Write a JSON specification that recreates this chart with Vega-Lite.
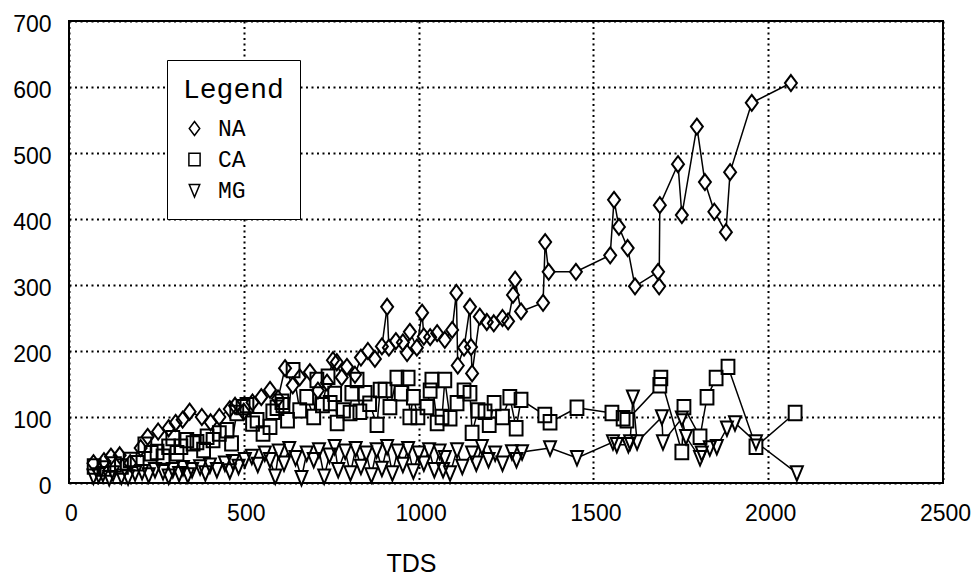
{
  "$schema": "https://vega.github.io/schema/vega-lite/v6.json",
  "width": 874,
  "height": 462,
  "autosize": {"type": "none"},
  "padding": {"left": 69, "top": 21, "right": 30, "bottom": 94},
  "background": "white",
  "config": {
    "view": {"stroke": "black", "strokeWidth": 2},
    "axis": {
      "domain": false,
      "ticks": false,
      "grid": true,
      "gridColor": "black",
      "gridDash": [2, 3.5],
      "gridWidth": 2,
      "gridOpacity": 1,
      "labelFont": "Liberation Sans",
      "labelFontSize": 23,
      "labelColor": "black",
      "labelFlush": false,
      "format": "d"
    }
  },
  "datasets": {
    "pts": [
      {"s":"NA","x":70,"y":30},{"s":"NA","x":100,"y":33},{"s":"NA","x":120,"y":40},{"s":"NA","x":145,"y":42},{"s":"NA","x":175,"y":30},
      {"s":"NA","x":205,"y":53},{"s":"NA","x":225,"y":70},{"s":"NA","x":255,"y":78},{"s":"NA","x":285,"y":83},{"s":"NA","x":305,"y":91},
      {"s":"NA","x":325,"y":96},{"s":"NA","x":345,"y":108},{"s":"NA","x":380,"y":100},{"s":"NA","x":405,"y":92},{"s":"NA","x":430,"y":100},
      {"s":"NA","x":460,"y":112},{"s":"NA","x":475,"y":117},{"s":"NA","x":500,"y":108},{"s":"NA","x":525,"y":122},{"s":"NA","x":550,"y":130},
      {"s":"NA","x":575,"y":141},{"s":"NA","x":598,"y":128},{"s":"NA","x":618,"y":174},{"s":"NA","x":640,"y":148},{"s":"NA","x":660,"y":160},
      {"s":"NA","x":689,"y":168},{"s":"NA","x":712,"y":140},{"s":"NA","x":738,"y":152},{"s":"NA","x":755,"y":186},{"s":"NA","x":766,"y":183},
      {"s":"NA","x":780,"y":160},{"s":"NA","x":795,"y":176},{"s":"NA","x":818,"y":164},{"s":"NA","x":835,"y":190},{"s":"NA","x":855,"y":200},
      {"s":"NA","x":875,"y":188},{"s":"NA","x":895,"y":207},{"s":"NA","x":910,"y":267},{"s":"NA","x":915,"y":205},{"s":"NA","x":935,"y":215},
      {"s":"NA","x":955,"y":213},{"s":"NA","x":967,"y":197},{"s":"NA","x":975,"y":229},{"s":"NA","x":995,"y":205},{"s":"NA","x":1010,"y":258},
      {"s":"NA","x":1015,"y":222},{"s":"NA","x":1033,"y":221},{"s":"NA","x":1053,"y":227},{"s":"NA","x":1075,"y":217},{"s":"NA","x":1096,"y":232},
      {"s":"NA","x":1108,"y":288},{"s":"NA","x":1112,"y":178},{"s":"NA","x":1130,"y":205},{"s":"NA","x":1147,"y":267},{"s":"NA","x":1150,"y":206},
      {"s":"NA","x":1153,"y":166},{"s":"NA","x":1175,"y":252},{"s":"NA","x":1195,"y":244},{"s":"NA","x":1215,"y":242},{"s":"NA","x":1240,"y":250},
      {"s":"NA","x":1256,"y":245},{"s":"NA","x":1270,"y":285},{"s":"NA","x":1276,"y":308},{"s":"NA","x":1293,"y":260},{"s":"NA","x":1356,"y":273},
      {"s":"NA","x":1362,"y":365},{"s":"NA","x":1372,"y":320},{"s":"NA","x":1450,"y":320},{"s":"NA","x":1548,"y":345},{"s":"NA","x":1559,"y":429},
      {"s":"NA","x":1573,"y":388},{"s":"NA","x":1598,"y":356},{"s":"NA","x":1619,"y":298},{"s":"NA","x":1685,"y":320},{"s":"NA","x":1688,"y":298},
      {"s":"NA","x":1690,"y":421},{"s":"NA","x":1742,"y":483},{"s":"NA","x":1753,"y":406},{"s":"NA","x":1796,"y":540},{"s":"NA","x":1819,"y":456},
      {"s":"NA","x":1846,"y":411},{"s":"NA","x":1879,"y":380},{"s":"NA","x":1891,"y":471},{"s":"NA","x":1953,"y":576},{"s":"NA","x":2065,"y":606},

      {"s":"CA","x":72,"y":25},{"s":"CA","x":100,"y":22},{"s":"CA","x":130,"y":28},{"s":"CA","x":150,"y":25},{"s":"CA","x":175,"y":35},
      {"s":"CA","x":195,"y":30},{"s":"CA","x":217,"y":58},{"s":"CA","x":235,"y":45},{"s":"CA","x":252,"y":47},{"s":"CA","x":269,"y":40},
      {"s":"CA","x":285,"y":55},{"s":"CA","x":297,"y":68},{"s":"CA","x":309,"y":45},{"s":"CA","x":320,"y":55},{"s":"CA","x":337,"y":65},
      {"s":"CA","x":355,"y":60},{"s":"CA","x":366,"y":62},{"s":"CA","x":385,"y":50},{"s":"CA","x":395,"y":70},{"s":"CA","x":412,"y":65},
      {"s":"CA","x":430,"y":75},{"s":"CA","x":452,"y":80},{"s":"CA","x":465,"y":60},{"s":"CA","x":480,"y":106},{"s":"CA","x":498,"y":115},
      {"s":"CA","x":509,"y":118},{"s":"CA","x":525,"y":90},{"s":"CA","x":538,"y":95},{"s":"CA","x":555,"y":75},{"s":"CA","x":575,"y":85},
      {"s":"CA","x":583,"y":108},{"s":"CA","x":595,"y":114},{"s":"CA","x":609,"y":123},{"s":"CA","x":612,"y":118},{"s":"CA","x":625,"y":95},
      {"s":"CA","x":641,"y":171},{"s":"CA","x":660,"y":110},{"s":"CA","x":680,"y":130},{"s":"CA","x":700,"y":100},{"s":"CA","x":709,"y":156},
      {"s":"CA","x":725,"y":118},{"s":"CA","x":741,"y":161},{"s":"CA","x":747,"y":121},{"s":"CA","x":760,"y":135},{"s":"CA","x":767,"y":91},
      {"s":"CA","x":785,"y":110},{"s":"CA","x":804,"y":106},{"s":"CA","x":809,"y":136},{"s":"CA","x":824,"y":156},{"s":"CA","x":832,"y":108},
      {"s":"CA","x":847,"y":136},{"s":"CA","x":860,"y":120},{"s":"CA","x":881,"y":88},{"s":"CA","x":890,"y":141},{"s":"CA","x":904,"y":141},
      {"s":"CA","x":918,"y":115},{"s":"CA","x":938,"y":159},{"s":"CA","x":950,"y":136},{"s":"CA","x":970,"y":159},{"s":"CA","x":975,"y":100},
      {"s":"CA","x":985,"y":130},{"s":"CA","x":998,"y":100},{"s":"CA","x":1024,"y":115},{"s":"CA","x":1033,"y":140},{"s":"CA","x":1038,"y":156},
      {"s":"CA","x":1053,"y":91},{"s":"CA","x":1067,"y":100},{"s":"CA","x":1075,"y":156},{"s":"CA","x":1090,"y":98},{"s":"CA","x":1110,"y":121},
      {"s":"CA","x":1130,"y":140},{"s":"CA","x":1147,"y":136},{"s":"CA","x":1153,"y":76},{"s":"CA","x":1170,"y":110},{"s":"CA","x":1190,"y":108},
      {"s":"CA","x":1202,"y":88},{"s":"CA","x":1216,"y":121},{"s":"CA","x":1240,"y":100},{"s":"CA","x":1261,"y":130},{"s":"CA","x":1279,"y":83},
      {"s":"CA","x":1293,"y":126},{"s":"CA","x":1361,"y":103},{"s":"CA","x":1376,"y":92},{"s":"CA","x":1453,"y":114},{"s":"CA","x":1553,"y":106},
      {"s":"CA","x":1585,"y":98},{"s":"CA","x":1596,"y":95},{"s":"CA","x":1690,"y":148},{"s":"CA","x":1693,"y":159},{"s":"CA","x":1753,"y":47},
      {"s":"CA","x":1759,"y":115},{"s":"CA","x":1805,"y":70},{"s":"CA","x":1825,"y":130},{"s":"CA","x":1851,"y":159},{"s":"CA","x":1885,"y":176},
      {"s":"CA","x":1965,"y":55},{"s":"CA","x":2077,"y":106},

      {"s":"MG","x":70,"y":10},{"s":"MG","x":85,"y":12},{"s":"MG","x":97,"y":14},{"s":"MG","x":115,"y":8},{"s":"MG","x":126,"y":15},
      {"s":"MG","x":150,"y":10},{"s":"MG","x":169,"y":9},{"s":"MG","x":189,"y":15},{"s":"MG","x":209,"y":17},{"s":"MG","x":228,"y":12},
      {"s":"MG","x":246,"y":20},{"s":"MG","x":269,"y":17},{"s":"MG","x":285,"y":10},{"s":"MG","x":297,"y":20},{"s":"MG","x":315,"y":14},
      {"s":"MG","x":326,"y":23},{"s":"MG","x":340,"y":12},{"s":"MG","x":352,"y":20},{"s":"MG","x":375,"y":24},{"s":"MG","x":390,"y":15},
      {"s":"MG","x":403,"y":27},{"s":"MG","x":423,"y":20},{"s":"MG","x":446,"y":30},{"s":"MG","x":460,"y":18},{"s":"MG","x":469,"y":32},
      {"s":"MG","x":485,"y":25},{"s":"MG","x":503,"y":35},{"s":"MG","x":523,"y":40},{"s":"MG","x":540,"y":28},{"s":"MG","x":560,"y":45},
      {"s":"MG","x":575,"y":35},{"s":"MG","x":590,"y":10},{"s":"MG","x":600,"y":48},{"s":"MG","x":615,"y":30},{"s":"MG","x":630,"y":52},
      {"s":"MG","x":648,"y":38},{"s":"MG","x":665,"y":8},{"s":"MG","x":680,"y":45},{"s":"MG","x":700,"y":35},{"s":"MG","x":715,"y":50},
      {"s":"MG","x":730,"y":10},{"s":"MG","x":745,"y":42},{"s":"MG","x":760,"y":55},{"s":"MG","x":770,"y":20},{"s":"MG","x":790,"y":48},
      {"s":"MG","x":805,"y":15},{"s":"MG","x":820,"y":52},{"s":"MG","x":835,"y":25},{"s":"MG","x":850,"y":45},{"s":"MG","x":865,"y":12},
      {"s":"MG","x":880,"y":50},{"s":"MG","x":895,"y":22},{"s":"MG","x":910,"y":55},{"s":"MG","x":925,"y":15},{"s":"MG","x":940,"y":48},
      {"s":"MG","x":955,"y":28},{"s":"MG","x":970,"y":52},{"s":"MG","x":985,"y":18},{"s":"MG","x":1000,"y":45},{"s":"MG","x":1015,"y":30},
      {"s":"MG","x":1030,"y":50},{"s":"MG","x":1045,"y":20},{"s":"MG","x":1060,"y":48},{"s":"MG","x":1070,"y":20},{"s":"MG","x":1075,"y":38},
      {"s":"MG","x":1090,"y":15},{"s":"MG","x":1110,"y":50},{"s":"MG","x":1125,"y":25},{"s":"MG","x":1153,"y":45},{"s":"MG","x":1165,"y":30},
      {"s":"MG","x":1181,"y":55},{"s":"MG","x":1200,"y":35},{"s":"MG","x":1219,"y":45},{"s":"MG","x":1240,"y":30},{"s":"MG","x":1267,"y":47},
      {"s":"MG","x":1280,"y":35},{"s":"MG","x":1296,"y":47},{"s":"MG","x":1376,"y":53},{"s":"MG","x":1453,"y":38},{"s":"MG","x":1556,"y":62},
      {"s":"MG","x":1567,"y":58},{"s":"MG","x":1600,"y":58},{"s":"MG","x":1605,"y":62},{"s":"MG","x":1613,"y":130},{"s":"MG","x":1625,"y":62},
      {"s":"MG","x":1696,"y":100},{"s":"MG","x":1699,"y":62},{"s":"MG","x":1753,"y":98},{"s":"MG","x":1765,"y":70},{"s":"MG","x":1805,"y":38},
      {"s":"MG","x":1810,"y":45},{"s":"MG","x":1833,"y":53},{"s":"MG","x":1853,"y":55},{"s":"MG","x":1882,"y":83},{"s":"MG","x":1905,"y":91},
      {"s":"MG","x":1965,"y":62},{"s":"MG","x":2082,"y":15}
    ]
  },
  "data": {"name": "pts"},
  "encoding": {
    "x": {
      "field": "x",
      "type": "quantitative",
      "scale": {"domain": [0, 2500], "nice": false},
      "axis": {
        "values": [0, 500, 1000, 1500, 2000, 2500],
        "labelPadding": 19,
        "labelOffset": 2,
        "title": "TDS",
        "titleFont": "Liberation Sans",
        "titleFontSize": 25,
        "titleFontWeight": "normal",
        "titleColor": "black",
        "titleX": 342,
        "titleY": 80,
        "titleAlign": "center",
        "titleBaseline": "middle"
      }
    },
    "y": {
      "field": "y",
      "type": "quantitative",
      "scale": {"domain": [0, 700], "nice": false},
      "axis": {
        "values": [0, 100, 200, 300, 400, 500, 600, 700],
        "labelPadding": 18,
        "labelOffset": 3,
        "title": null
      }
    }
  },
  "resolve": {"legend": {"shape": "independent"}},
  "layer": [
    {
      "mark": {"type": "line", "color": "black", "strokeWidth": 1.5},
      "encoding": {"detail": {"field": "s", "type": "nominal"}}
    },
    {
      "mark": {"type": "point", "filled": true, "color": "white", "size": 256, "opacity": 1},
      "encoding": {
        "shape": {
          "field": "s",
          "type": "nominal",
          "scale": {
            "domain": ["NA", "CA", "MG"],
            "range": ["M0,-1L0.75,0L0,1L-0.75,0Z", "M-0.8,-0.9L0.8,-0.9L0.8,0.9L-0.8,0.9Z", "M-0.75,-0.85L0.75,-0.85L0,0.95Z"]
          },
          "legend": null
        }
      }
    },
    {
      "mark": {"type": "point", "filled": false, "color": "black", "strokeWidth": 2, "size": 256, "opacity": 1},
      "encoding": {
        "shape": {
          "field": "s",
          "type": "nominal",
          "legend": {
            "orient": "none",
            "legendX": 98,
            "legendY": 39,
            "title": "Legend",
            "titleFont": "Liberation Mono",
            "titleFontSize": 28,
            "titleFontWeight": "normal",
            "titleColor": "black",
            "titlePadding": 13,
            "labelFont": "Liberation Mono",
            "labelFontSize": 23,
            "labelColor": "black",
            "labelOffset": 12,
            "symbolSize": 196,
            "rowPadding": 7,
            "padding": 16,
            "strokeColor": "black",
            "fillColor": "white"
          }
        }
      }
    }
  ]
}
